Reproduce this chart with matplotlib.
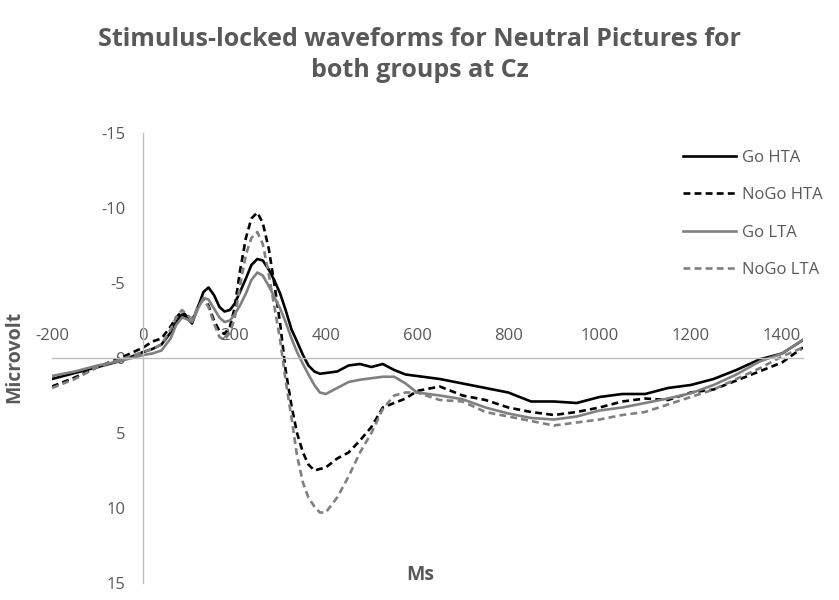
import matplotlib
matplotlib.use("Agg")
import matplotlib.pyplot as plt

plt.rcParams['font.family'] = ['Open Sans', 'DejaVu Sans']
plt.rcParams['axes.unicode_minus'] = False

# tiempo en ms (eje X) y microvoltios por serie
tiempo_ms = [-200, -150, -100, -50, 0, 20, 40, 60, 72, 85, 95, 107, 120, 132, 143, 155,
             167, 178, 190, 200, 212, 225, 237, 250, 262, 275, 287, 300, 312, 325,
             337, 350, 362, 375, 387, 400, 425, 450, 475, 500, 525, 550, 575, 600,
             650, 700, 750, 800, 850, 900, 950, 1000, 1050, 1100, 1150, 1200, 1250,
             1300, 1350, 1400, 1446]

go_hta = [1.4, 1.0, 0.6, 0.2, -0.4, -0.6, -0.9, -1.7, -2.4, -2.9, -2.7, -2.3, -3.4, -4.4, -4.7, -4.2,
          -3.4, -3.1, -3.2, -3.6, -4.4, -5.3, -6.2, -6.6, -6.5, -5.9, -5.2, -4.3, -3.2, -1.9,
          -1.1, -0.2, 0.5, 0.9, 1.05, 1.0, 0.9, 0.5, 0.4, 0.6, 0.4, 0.8, 1.1, 1.2,
          1.4, 1.7, 2.0, 2.3, 2.9, 2.9, 3.0, 2.6, 2.4, 2.4, 2.0, 1.8, 1.4,
          0.8, 0.1, -0.3, -1.2]

nogo_hta = [1.9, 1.3, 0.6, 0.0, -0.7, -1.1, -1.3, -2.1, -2.7, -3.1, -2.8, -2.5, -3.4, -4.0, -3.5, -2.5,
            -1.8, -1.6, -2.1, -3.3, -5.8, -8.0, -9.3, -9.7, -9.0, -7.3, -5.0, -2.3, 0.8, 3.2,
            5.0, 6.3, 7.1, 7.5, 7.4, 7.3, 6.7, 6.3, 5.5, 4.6, 3.3, 3.0, 2.7, 2.2,
            1.9, 2.5, 2.8, 3.3, 3.6, 3.8, 3.6, 3.3, 2.9, 2.7, 2.8, 2.3, 2.1,
            1.5, 0.9, 0.3, -0.7]

go_lta = [1.2, 0.9, 0.5, 0.2, -0.2, -0.3, -0.5, -1.3, -2.2, -2.7, -2.6, -2.4, -3.3, -4.0, -3.9, -3.3,
          -2.7, -2.4, -2.5, -2.9, -3.5, -4.3, -5.2, -5.7, -5.5, -4.8, -4.1, -3.3, -2.4, -1.3,
          -0.4, 0.4, 1.1, 1.8, 2.3, 2.4, 2.0, 1.6, 1.45, 1.35, 1.25, 1.25, 1.7, 2.3,
          2.5, 2.75, 3.3, 3.7, 4.0, 4.1, 3.9, 3.5, 3.3, 3.0, 2.7, 2.35, 1.8,
          1.1, 0.25, -0.3, -1.2]

nogo_lta = [2.0, 1.4, 0.6, 0.1, -0.4, -0.6, -0.9, -1.9, -2.7, -3.2, -2.9, -2.6, -3.4, -3.9, -3.4, -2.3,
            -1.4, -1.2, -1.7, -2.6, -4.8, -6.9, -8.0, -8.4, -7.6, -5.6, -3.5, -1.2, 1.5, 4.0,
            6.5, 8.3, 9.3, 9.9, 10.3, 10.3, 9.3, 7.9, 6.3, 5.0, 3.4, 2.5, 2.3, 2.3,
            2.8, 2.9, 3.6, 3.9, 4.2, 4.5, 4.3, 4.1, 3.8, 3.6, 3.1, 2.6, 2.1,
            1.4, 0.7, -0.1, -0.7]

gris_texto = "#595959"

fig = plt.figure(figsize=(8.39, 6.0), dpi=100)
ax = fig.add_axes([52 / 839, 1 - 583 / 600, (803 - 52) / 839, 450 / 600])

ax.plot(tiempo_ms, go_hta, color="#000000", lw=1.9, solid_joinstyle="round", label="Go HTA")
ax.plot(tiempo_ms, nogo_hta, color="#000000", lw=1.9, dashes=(2.6, 1.6), label="NoGo HTA")
ax.plot(tiempo_ms, go_lta, color="#808080", lw=1.9, solid_joinstyle="round", label="Go LTA")
ax.plot(tiempo_ms, nogo_lta, color="#808080", lw=1.9, dashes=(2.6, 1.6), label="NoGo LTA")

ax.set_xlim(-200, 1446)
ax.set_ylim(15, -15)  # eje invertido

ax.spines["left"].set_position(("data", 0))
ax.spines["top"].set_position(("data", 0))
ax.spines["bottom"].set_visible(False)
ax.spines["right"].set_visible(False)
for lado in ["left", "top"]:
    ax.spines[lado].set_color("#bfbfbf")
    ax.spines[lado].set_linewidth(1.0)

ax.xaxis.set_ticks_position("top")
ax.set_xticks(range(-200, 1401, 200))
ax.set_yticks(range(-15, 16, 5))
ax.tick_params(length=0, labelcolor=gris_texto, labelsize=12)
ax.tick_params(axis="x", pad=10)
ax.tick_params(axis="y", pad=13)

fig.text(0.5, 1 - 55 / 600,
         "Stimulus-locked waveforms for Neutral Pictures for\nboth groups at Cz",
         ha="center", va="center", fontsize=18, fontweight="bold",
         color=gris_texto, linespacing=1.3)
fig.text(14 / 839, 1 - 357 / 600, "Microvolt", rotation=90, ha="center", va="center",
         fontsize=14, fontweight="bold", color=gris_texto)
fig.text(420 / 839, 1 - 575 / 600, "Ms", ha="center", va="center",
         fontsize=14, fontweight="bold", color=gris_texto)

leg = fig.legend(loc="upper left", bbox_to_anchor=(683 / 839, 1 - 150 / 600),
                 frameon=False, fontsize=12, handlelength=3.2, handletextpad=0.35,
                 labelspacing=1.28, borderpad=0, borderaxespad=0)
for txt in leg.get_texts():
    txt.set_color(gris_texto)

fig.savefig("out.png", dpi=100)
